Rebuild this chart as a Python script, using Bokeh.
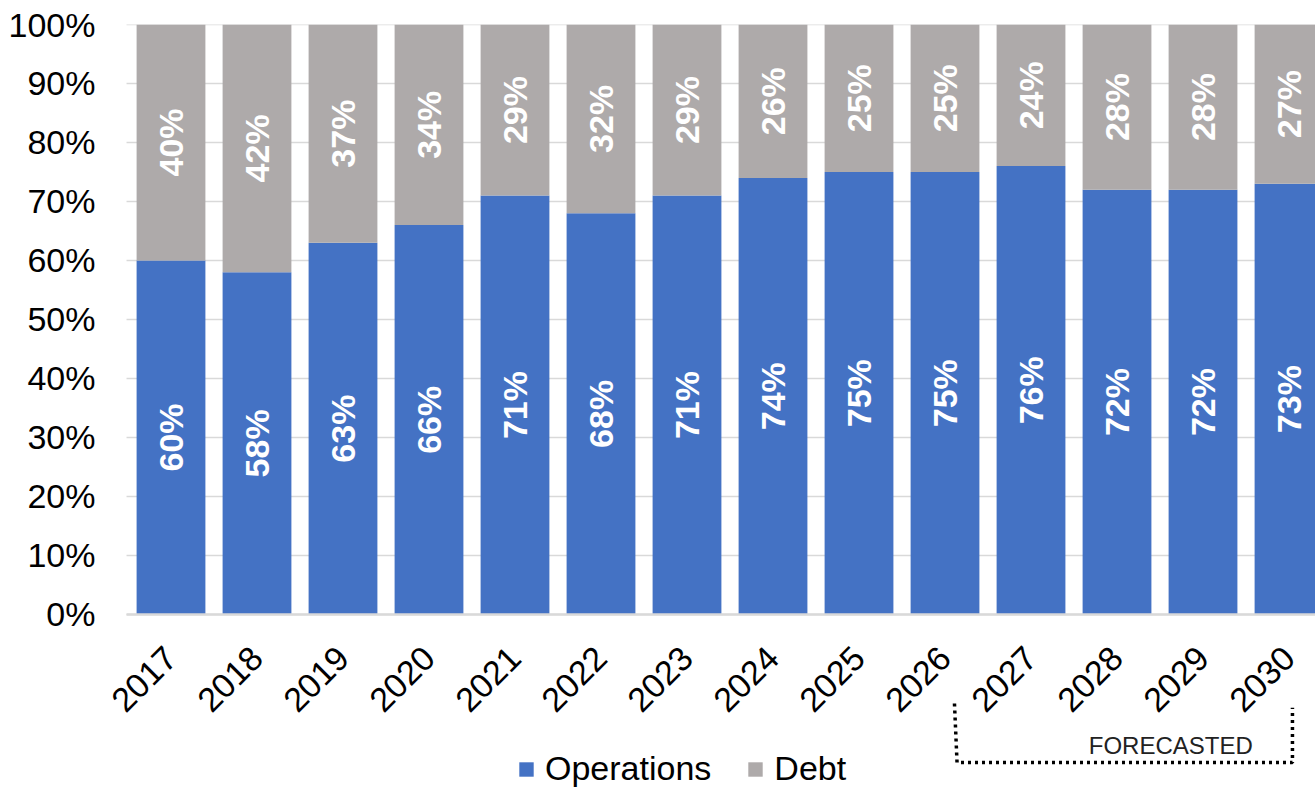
import math
from bokeh.plotting import figure
from bokeh.models import (ColumnDataSource, Range1d, FixedTicker, NumeralTickFormatter,
                          Legend, LegendItem)
from bokeh.core.properties import value
from bokeh.embed import file_html
from bokeh.resources import INLINE

years = ["2017", "2018", "2019", "2020", "2021", "2022", "2023",
         "2024", "2025", "2026", "2027", "2028", "2029", "2030"]
operations = [60, 58, 63, 66, 71, 68, 71, 74, 75, 75, 76, 72, 72, 73]
debt = [40, 42, 37, 34, 29, 32, 29, 26, 25, 25, 24, 28, 28, 27]
y_ticks = [0, 10, 20, 30, 40, 50, 60, 70, 80, 90, 100]
forecast_first, forecast_last = "2027", "2030"
forecast_text = "FORECASTED"

BLUE = "#4472C4"
GRAY = "#AEAAAA"
GRID = "#D9D9D9"
FONT = "Liberation Sans"

idx = list(range(len(years)))
ops_f = [v / 100 for v in operations]
debt_f = [v / 100 for v in debt]
src = ColumnDataSource(dict(
    x=idx, ops=ops_f, debt=debt_f,
    top_all=[o + d for o, d in zip(ops_f, debt_f)],
    ops_mid=[o / 2 for o in ops_f],
    debt_mid=[o + d / 2 for o, d in zip(ops_f, debt_f)],
    ops_lbl=[f"{v}%" for v in operations],
    debt_lbl=[f"{v}%" for v in debt],
))

X_END = 13.308
GRID_START = -0.517
p = figure(width=1315, height=788, output_backend="svg", toolbar_location=None,
           x_range=Range1d(-0.75, X_END), y_range=Range1d(-0.295, 1),
           min_border_left=106, min_border_right=0, min_border_top=24,
           min_border_bottom=0)
p.outline_line_color = None
p.background_fill_color = "white"
p.border_fill_color = "white"
p.xgrid.grid_line_color = None
p.ygrid.grid_line_color = None

# gridlines (start at the plot-area edge, like the reference)
gy = [t / 100 for t in y_ticks]
p.segment(x0=[GRID_START] * len(gy), x1=[X_END] * len(gy), y0=gy, y1=gy,
          line_color=GRID, line_width=1.5)

r_ops = p.vbar(x="x", bottom=0, top="ops", width=0.8, source=src,
               fill_color=BLUE, line_color=None)
r_debt = p.vbar(x="x", bottom="ops", top="top_all", width=0.8, source=src,
                fill_color=GRAY, line_color=None)
# category axis baseline
p.segment(x0=[GRID_START], x1=[X_END], y0=[0], y1=[0], line_color=GRID, line_width=2.5)

p.text(x="x", y="ops_mid", text="ops_lbl", source=src, angle=math.pi / 2,
       text_align="center", text_baseline="middle", text_color="white",
       text_font=value(FONT), text_font_style="bold", text_font_size="34px")
p.text(x="x", y="debt_mid", text="debt_lbl", source=src, angle=math.pi / 2,
       text_align="center", text_baseline="middle", text_color="white",
       text_font=value(FONT), text_font_style="bold", text_font_size="34px")

# axes
p.yaxis.ticker = FixedTicker(ticks=gy)
p.yaxis.formatter = NumeralTickFormatter(format="0%")
p.yaxis.axis_line_color = None
p.yaxis.major_tick_line_color = None
p.yaxis.major_tick_out = 0
p.yaxis.minor_tick_line_color = None
p.yaxis.major_label_standoff = 11
p.yaxis.major_label_text_font = FONT
p.yaxis.major_label_text_font_size = "34px"
p.yaxis.major_label_text_color = "black"

p.xaxis.fixed_location = 0
p.xaxis.ticker = FixedTicker(ticks=idx)
p.xaxis.major_label_overrides = {i: y for i, y in zip(idx, years)}
p.xaxis.major_label_orientation = math.pi / 4
p.xaxis.axis_line_color = None
p.xaxis.major_tick_line_color = None
p.xaxis.major_tick_out = 0
p.xaxis.minor_tick_line_color = None
p.xaxis.major_label_standoff = 38
p.xaxis.major_label_text_font = FONT
p.xaxis.major_label_text_font_size = "34px"
p.xaxis.major_label_text_color = "black"

# forecast bracket
fx0 = years.index(forecast_first) - 0.89
fx1 = years.index(forecast_last) + 0.04
p.line(x=[fx0, fx0 + 0.03, fx1, fx1], y=[-0.151, -0.251, -0.251, -0.158],
       line_dash="3 4", line_width=3.5, line_color="black")
p.text(x=[(fx0 + fx1) / 2 + 0.55], y=[-0.222], text=[forecast_text],
       text_align="center", text_baseline="middle",
       text_font=value(FONT), text_font_size="24px", text_color="#222222")

# legend
legend = Legend(items=[LegendItem(label="Operations", renderers=[r_ops]),
                       LegendItem(label="Debt", renderers=[r_debt])],
                orientation="horizontal", location=(411, 0),
                glyph_width=18, glyph_height=18, label_standoff=10, spacing=35,
                padding=0, margin=0, border_line_alpha=0, background_fill_alpha=0,
                label_text_font=FONT, label_text_font_size="34px",
                label_text_color="black", label_height=37)
p.add_layout(legend)

open("out.html", "w").write(file_html(p, INLINE))
